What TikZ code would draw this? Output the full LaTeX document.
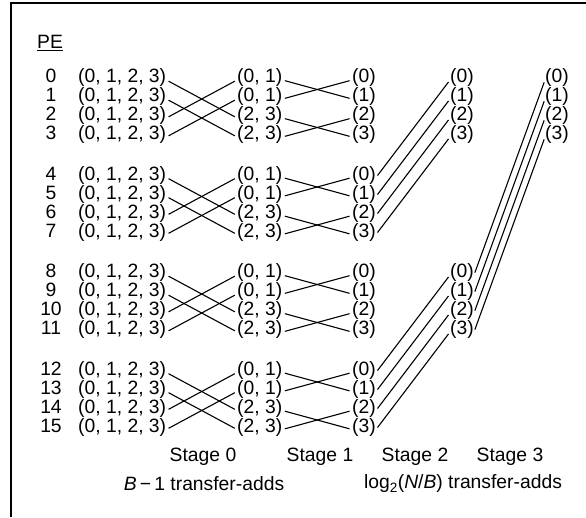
\documentclass[tikz,border=0pt]{standalone}
\usepackage{fontspec}
\setmainfont{Liberation Sans}
\begin{document}
\begin{tikzpicture}[x=1pt,y=-1pt,
  every node/.style={font=\fontsize{19.3}{22}\selectfont, inner sep=0pt},
  txt/.style={anchor=west, text height=0.73em, text depth=0.21em},
  num/.style={text height=0.73em, text depth=0.21em},
  wire/.style={line width=1.1pt, shorten <=2.5pt, shorten >=2.5pt},
  frame/.style={line width=1.8pt}]
\useasboundingbox (0,0) rectangle (586,517);
\coordinate (fb) at (11,517);
\coordinate (fc) at (11,3);
\coordinate (fr) at (586,3);
\draw[frame] (fb) -- (fc) -- (fr);
\node (pe) at (50,43) {\underline{PE}};
\foreach \g in {0,...,3}{
  \foreach \r in {0,...,3}{
    \pgfmathtruncatemacro\i{4*\g+\r}
    \pgfmathsetmacro\yy{80+97.5*\g+19*\r}
    \node[num] (l\i) at (51,\yy) {\i};
    \node[txt] (a\i) at (78,\yy) {(0, 1, 2, 3)};
    \node[txt] (b\i) at (237,\yy) {\ifnum\r<2 (0, 1)\else (2, 3)\fi};
    \node[txt] (c\i) at (352,\yy) {(\r)};
  }
}
\foreach \r in {0,...,3}{
  \pgfmathsetmacro\ya{80+19*\r}
  \pgfmathsetmacro\yb{80+2*97.5+19*\r}
  \pgfmathtruncatemacro\u{8+\r}
  \node[txt] (d\r) at (450,\ya) {(\r)};
  \node[txt] (d\u) at (450,\yb) {(\r)};
  \node[txt] (e\r) at (545,\ya) {(\r)};
}
\foreach \g in {0,...,3}{
  \foreach \r in {0,...,3}{
    \pgfmathtruncatemacro\i{4*\g+\r}
    \pgfmathtruncatemacro\j{4*\g+mod(\r+2,4)}
    \pgfmathtruncatemacro\k{4*\g+\r+1-2*mod(\r,2)}
    \draw[wire] (a\i.east) -- (b\j.west);
    \draw[wire] (b\i.east) -- (c\k.west);
  }
}
\foreach \r in {0,...,3}{
  \pgfmathtruncatemacro\s{4+\r}
  \pgfmathtruncatemacro\t{12+\r}
  \pgfmathtruncatemacro\u{8+\r}
  \draw[wire] (c\s.east) -- (d\r.west);
  \draw[wire] (c\t.east) -- (d\u.west);
  \draw[wire] (d\u.east) -- (e\r.west);
}
\node (s0) at (203,457) {Stage 0};
\node (s1) at (320,457) {Stage 1};
\node (s2) at (415,457) {Stage 2};
\node (s3) at (510,457) {Stage 3};
\node (t0) at (204,484) {\textit{B}\,−\,1 transfer-adds};
\node (t1) at (463,484) {log\textsubscript{2}(\textit{N}/\textit{B}) transfer-adds};
\end{tikzpicture}
\end{document}
